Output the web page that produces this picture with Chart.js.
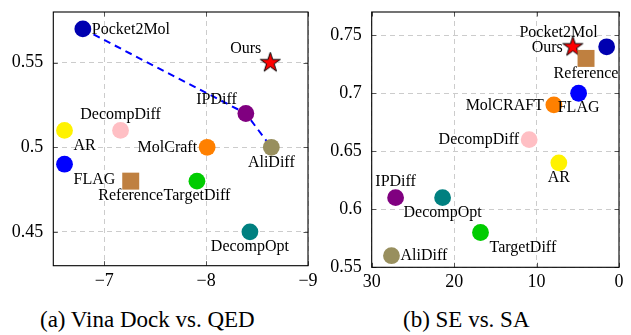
<!DOCTYPE html>
<html><head><meta charset="utf-8">
<script src="https://cdn.jsdelivr.net/npm/chart.js@4.4.1/dist/chart.umd.min.js"></script>
<style>
html,body{margin:0;padding:0;background:#fff;overflow:hidden;width:631px;height:335px;}
#wrap{position:relative;width:631px;height:335px;}
canvas{position:absolute;top:0;}
#cA{left:0}
#cB{left:320px}
.cap{position:absolute;top:308px;font-family:"Liberation Serif",serif;font-size:23px;line-height:23px;white-space:nowrap;color:#000}
</style></head><body>
<div id="wrap">
<canvas id="cA" width="320" height="300"></canvas>
<canvas id="cB" width="311" height="300"></canvas>
<div class="cap" style="left:40px">(a) Vina Dock vs. QED</div>
<div class="cap" style="left:403px">(b) SE vs. SA</div>
</div>
<script>
// ---------- data: panel (a) Vina Dock vs. QED ----------
const methodsA = ["Pocket2Mol","Ours","IPDiff","AliDiff","MolCraft","DecompDiff","AR","FLAG","Reference","TargetDiff","DecompOpt"];
const vinaDock = [-6.79, -8.63, -8.39, -8.64, -8.01, -7.16, -6.61, -6.61, -7.26, -7.91, -8.43];
const qed      = [0.57, 0.55, 0.52, 0.50, 0.50, 0.51, 0.51, 0.49, 0.48, 0.48, 0.45];
const frontA   = ["Pocket2Mol","IPDiff","AliDiff"];
const xTicksA = [-7, -8, -9];
const xTickLabelsA = ["\u22127", "\u22128", "\u22129"];
const yTicksA = [0.45, 0.5, 0.55];
const yTickLabelsA = ["0.45", "0.5", "0.55"];

// ---------- data: panel (b) SE vs. SA ----------
const methodsB = ["Pocket2Mol","Ours","Reference","FLAG","MolCRAFT","DecompDiff","AR","IPDiff","DecompOpt","TargetDiff","AliDiff"];
const seScore  = [1.5, 5.6, 4.0, 4.9, 7.9, 10.9, 7.3, 27.1, 21.4, 16.8, 27.6];
const saScore  = [0.74, 0.74, 0.73, 0.70, 0.69, 0.66, 0.64, 0.61, 0.61, 0.58, 0.56];
const xTicksB = [30, 20, 10, 0];
const xTickLabelsB = ["30", "20", "10", "0"];
const yTicksB = [0.55, 0.6, 0.65, 0.7, 0.75];
const yTickLabelsB = ["0.55", "0.6", "0.65", "0.7", "0.75"];

// ---------- styles ----------
const colorOf = {
  Pocket2Mol:"#0000B0", Ours:"#FF0000", IPDiff:"#800080", AliDiff:"#988F5E",
  MolCraft:"#FF8000", MolCRAFT:"#FF8000", DecompDiff:"#FFBFC4", AR:"#FFF200",
  FLAG:"#0000FF", Reference:"#BF8040", TargetDiff:"#00CC00", DecompOpt:"#008080"
};
const shapeOf = name => name === "Ours" ? "star" : (name === "Reference" ? "rect" : "circle");

function makeStar(R){
  const s = Math.ceil(2*R + 4);
  const c = document.createElement('canvas');
  c.width = s; c.height = s;
  const g = c.getContext('2d');
  g.translate(s/2, s/2);
  g.beginPath();
  for (let k = 0; k < 10; k++){
    const ang = -Math.PI/2 + k*Math.PI/5;
    const r = k % 2 === 0 ? R : R*0.382;
    const px = r*Math.cos(ang), py = r*Math.sin(ang);
    if (k === 0) g.moveTo(px, py); else g.lineTo(px, py);
  }
  g.closePath();
  g.fillStyle = "#FF0000"; g.fill();
  g.lineWidth = 1; g.strokeStyle = "#000"; g.lineJoin = "miter"; g.stroke();
  return c;
}
const starImg = makeStar(10.5);

const OFF = {
  e:  {dx: 9,  dy: 0.5, align:'left'},
  w:  {dx:-10, dy: 0.5, align:'right'},
  n:  {dx: 0,  dy:-16, align:'center'},
  s:  {dx: 0,  dy: 15, align:'center'},
  nw: {dx:-9,  dy:-14, align:'right'},
  se: {dx: 9,  dy: 15.5, align:'left'}
};

const anchorsA = {Pocket2Mol:'e', Ours:'nw', IPDiff:'nw', AliDiff:'s', MolCraft:'w', DecompDiff:'n',
  AR:'se', FLAG:'se', Reference:'s', TargetDiff:'s', DecompOpt:'s'};
const anchorsB = {Pocket2Mol:'nw', Ours:'w', Reference:'s', FLAG:'s', MolCRAFT:'w', DecompDiff:'w',
  AR:'s', IPDiff:'n', DecompOpt:'s', TargetDiff:'se', AliDiff:'e'};

const LABEL_FONT = '16px "Liberation Serif", serif';

const pointLabels = {
  id: 'pointLabels',
  afterDatasetsDraw(chart, args, opts){
    if (!opts || !opts.names) return;
    const meta = chart.getDatasetMeta(0);
    const ctx = chart.ctx;
    ctx.save();
    ctx.font = LABEL_FONT;
    ctx.fillStyle = '#000';
    ctx.textBaseline = 'middle';
    meta.data.forEach((el, i) => {
      const name = opts.names[i];
      const o = OFF[opts.anchors[name]];
      ctx.textAlign = o.align;
      ctx.fillText(name, el.x + o.dx, el.y + o.dy);
    });
    ctx.restore();
  }
};

const frame = {
  id: 'frame',
  afterDraw(chart){
    const {ctx, chartArea:a, scales} = chart;
    ctx.save();
    ctx.strokeStyle = '#555'; ctx.lineWidth = 1;
    const tl = 4.5;
    ctx.beginPath();
    scales.x.ticks.forEach(t => {
      const px = Math.round(scales.x.getPixelForValue(t.value)) + 0.5;
      ctx.moveTo(px, a.bottom); ctx.lineTo(px, a.bottom - tl);
      ctx.moveTo(px, a.top); ctx.lineTo(px, a.top + tl);
    });
    scales.y.ticks.forEach(t => {
      const py = Math.round(scales.y.getPixelForValue(t.value)) + 0.5;
      ctx.moveTo(a.left, py); ctx.lineTo(a.left + tl, py);
      ctx.moveTo(a.right, py); ctx.lineTo(a.right - tl, py);
    });
    ctx.stroke();
    ctx.strokeStyle = '#000'; ctx.lineWidth = 1.1;
    ctx.strokeRect(a.left, a.top, a.right - a.left, a.bottom - a.top);
    ctx.restore();
  }
};

function makeChart(canvas, cfg){
  const pts = cfg.names.map((n, i) => ({x: cfg.xs[i], y: cfg.ys[i]}));
  const datasets = [{
    data: pts,
    backgroundColor: cfg.names.map(n => colorOf[n]),
    borderColor: cfg.names.map(n => colorOf[n]),
    borderWidth: 0,
    pointStyle: cfg.names.map(n => shapeOf(n) === 'star' ? starImg : shapeOf(n)),
    pointRadius: cfg.names.map(n => shapeOf(n) === 'rect' ? 12 : 8.4),
    order: 0,
    clip: false
  }];
  if (cfg.front){
    datasets.push({
      data: cfg.front.map(n => { const i = cfg.names.indexOf(n); return {x: cfg.xs[i], y: cfg.ys[i]}; }),
      showLine: true,
      borderColor: '#0000FF',
      borderWidth: 2,
      borderDash: [7, 5],
      pointRadius: 0,
      fill: false,
      order: 1,
      clip: false
    });
  }
  const tickFont = {family: '"Liberation Serif", serif', size: 18};
  return new Chart(canvas, {
    type: 'scatter',
    data: {datasets},
    options: {
      responsive: false,
      animation: false,
      events: [],
      devicePixelRatio: 1,
      layout: {padding: {left: 0, top: cfg.g.top, right: cfg.g.right, bottom: 0}},
      plugins: {legend: {display: false}, tooltip: {enabled: false},
        pointLabels: {names: cfg.names, anchors: cfg.anchors}},
      scales: {
        x: {
          type: 'linear', min: cfg.xMin, max: cfg.xMax, reverse: true,
          afterBuildTicks: s => { s.ticks = cfg.xTicks.map(v => ({value: v})); },
          afterFit: s => { s.height = cfg.g.xh; s.paddingLeft = 0; s.paddingRight = 0; },
          ticks: {autoSkip: false, maxRotation: 0, padding: cfg.g.xpad, color: '#000', font: tickFont,
            callback: (v, i) => cfg.xLabels[i]},
          grid: {color: '#cccccc', lineWidth: 1, drawTicks: false},
          border: {display: false, dash: [5, 4]}
        },
        y: {
          type: 'linear', min: cfg.yMin, max: cfg.yMax,
          afterBuildTicks: s => { s.ticks = cfg.yTicks.map(v => ({value: v})); },
          afterFit: s => { s.width = cfg.g.yw; s.paddingTop = 0; s.paddingBottom = 0; },
          ticks: {autoSkip: false, padding: 10, color: '#000', font: tickFont,
            callback: (v, i) => cfg.yLabels[i]},
          grid: {color: '#cccccc', lineWidth: 1, drawTicks: false},
          border: {display: false, dash: [5, 4]}
        }
      }
    },
    plugins: [pointLabels, frame]
  });
}

makeChart(document.getElementById('cA'), {
  names: methodsA, xs: vinaDock, ys: qed, front: frontA, anchors: anchorsA,
  xMin: -9, xMax: -6.5, yMin: 0.43, yMax: 0.58,
  xTicks: xTicksA, xLabels: xTickLabelsA, yTicks: yTicksA, yLabels: yTickLabelsA,
  g: {top: 6.5, right: 8.3, yw: 53.3, xh: 34.3, xpad: 5}
});
makeChart(document.getElementById('cB'), {
  names: methodsB, xs: seScore, ys: saScore, front: null, anchors: anchorsB,
  xMin: 0, xMax: 30, yMin: 0.55, yMax: 0.77,
  xTicks: xTicksB, xLabels: xTickLabelsB, yTicks: yTicksB, yLabels: yTickLabelsB,
  g: {top: 9.3, right: 1, yw: 51.7, xh: 32.7, xpad: 4}
});
</script>
</body></html>
